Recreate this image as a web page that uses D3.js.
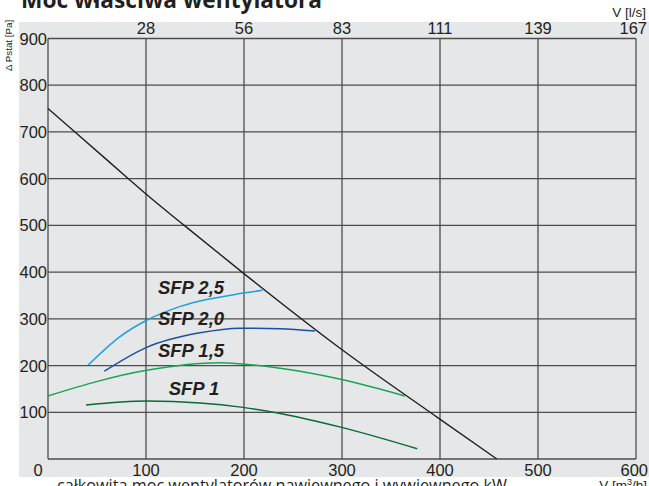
<!DOCTYPE html>
<html>
<head>
<meta charset="utf-8">
<script src="https://cdn.jsdelivr.net/npm/d3@7"></script>
<style>
  body { margin: 0; background: #fff; }
  svg { display: block; }
</style>
</head>
<body>
<div id="chart"></div>
<script>
// ticks
const x_ticks = [0, 100, 200, 300, 400, 500, 600]
const y_ticks = [0, 100, 200, 300, 400, 500, 600, 700, 800, 900]
const top_tick_labels = ["28", "56", "83", "111", "139", "167"]

// system curve (black)
const system_curve = [[0, 750], [27.5, 700], [82, 600], [100, 567], [139, 500], [198, 400], [298, 237], [398, 88], [458, 0]]

// SFP curves
const sfp_25 = [[41, 201], [73.5, 262], [100.7, 297], [130, 323], [155, 338], [196, 354], [219, 361]]
const sfp_20 = [[57.5, 188], [100.7, 239], [155, 270], [196, 280], [237, 279], [272.4, 274]]
const sfp_15 = [[0, 135], [100.7, 190], [175.5, 206], [237, 194], [299.7, 170], [364, 135]]
const sfp_10 = [[38.8, 115.4], [100.7, 124], [155, 120], [199, 110.5], [237, 97.6], [299.7, 67.7], [376.8, 22]]

const series = [
  { name: "SFP 2,5", data: sfp_25, color: "#1fa0e0", label_at: [191, 294] },
  { name: "SFP 2,0", data: sfp_20, color: "#1c4fa3", label_at: [191, 325] },
  { name: "SFP 1,5", data: sfp_15, color: "#18a552", label_at: [191, 357] },
  { name: "SFP 1", data: sfp_10, color: "#0b6b35", label_at: [194, 395] },
]

const width = 649
const height = 486

const svg = d3.select("#chart")
  .append("svg")
  .attr("width", width)
  .attr("height", height)

// gray background panel
svg.append("rect")
  .attr("x", 19).attr("y", 22)
  .attr("width", 630).attr("height", 455)
  .attr("fill", "#e6e7e8")

const x = d3.scaleLinear().domain([0, 600]).range([48, 636])
const y = d3.scaleLinear().domain([0, 900]).range([459, 38.5])

// grid
svg.selectAll(".vgrid")
  .data(x_ticks)
  .join("line")
  .attr("x1", d => x(d)).attr("x2", d => x(d))
  .attr("y1", y(0)).attr("y2", y(900))
  .attr("stroke", "#4d4d4d")
  .attr("stroke-width", 1.3)

svg.selectAll(".hgrid")
  .data(y_ticks)
  .join("line")
  .attr("x1", x(0)).attr("x2", x(600))
  .attr("y1", d => y(d)).attr("y2", d => y(d))
  .attr("stroke", "#4d4d4d")
  .attr("stroke-width", 1.3)

// tick labels
const tick_font = "'Liberation Sans', Arial, sans-serif"

svg.selectAll(".ylab")
  .data(y_ticks.filter(d => d > 0))
  .join("text")
  .attr("x", x(0) - 1)
  .attr("y", d => y(d) + 6)
  .attr("text-anchor", "end")
  .style("font-family", tick_font)
  .style("font-size", "16.5px")
  .attr("fill", "#231f20")
  .text(d => d)

svg.selectAll(".xlab")
  .data(x_ticks)
  .join("text")
  .attr("x", d => d === 0 ? x(d) - 10 : x(d))
  .attr("y", 476)
  .attr("text-anchor", d => d === 600 ? "end" : "middle")
  .attr("dx", d => d === 600 ? 12 : 0)
  .style("font-family", tick_font)
  .style("font-size", "16.5px")
  .attr("fill", "#231f20")
  .text(d => d)

svg.selectAll(".toplab")
  .data(top_tick_labels)
  .join("text")
  .attr("x", (d, i) => x(x_ticks[i + 1]))
  .attr("y", 34)
  .attr("text-anchor", (d, i) => i === top_tick_labels.length - 1 ? "end" : "middle")
  .attr("dx", (d, i) => i === top_tick_labels.length - 1 ? 11 : 0)
  .style("font-family", tick_font)
  .style("font-size", "16.5px")
  .attr("fill", "#231f20")
  .text(d => d)

// axis titles
svg.append("text")
  .attr("x", 646).attr("y", 17)
  .attr("text-anchor", "end")
  .style("font-family", tick_font)
  .style("font-size", "13.5px")
  .attr("fill", "#231f20")
  .text("V [l/s]")

svg.append("text")
  .attr("x", 647).attr("y", 490)
  .attr("text-anchor", "end")
  .style("font-family", tick_font)
  .style("font-size", "13.5px")
  .attr("fill", "#231f20")
  .html("V [m<tspan dy='-5' font-size='9px'>3</tspan><tspan dy='5'>/h]</tspan>")

svg.append("text")
  .attr("transform", "translate(12,71) rotate(-90)")
  .style("font-family", tick_font)
  .style("font-size", "9.8px")
  .attr("fill", "#231f20")
  .text("Δ Pstat [Pa]")

// title (partly cut off at the top)
svg.append("text")
  .attr("x", 21).attr("y", 8)
  .style("font-family", "'Open Sans', 'Noto Sans', sans-serif")
  .style("font-weight", "700")
  .style("font-size", "22.7px")
  .attr("fill", "#231f20")
  .text("Moc właściwa wentylatora")

// footnote (cut off at the bottom)
svg.append("text")
  .attr("x", 57).attr("y", 491)
  .style("font-family", "'Open Sans', 'Noto Sans', sans-serif")
  .style("font-size", "16.2px")
  .attr("fill", "#231f20")
  .text("całkowita moc wentylatorów nawiewnego i wywiewnego kW")

// curves
const line = d3.line()
  .x(d => x(d[0]))
  .y(d => y(d[1]))
  .curve(d3.curveMonotoneX)

svg.append("path")
  .datum(system_curve)
  .attr("d", line)
  .attr("fill", "none")
  .attr("stroke", "#231f20")
  .attr("stroke-width", 1.4)

svg.selectAll(".sfp")
  .data(series)
  .join("path")
  .attr("d", d => line(d.data))
  .attr("fill", "none")
  .attr("stroke", d => d.color)
  .attr("stroke-width", 1.5)

svg.selectAll(".sfp-label")
  .data(series)
  .join("text")
  .attr("x", d => d.label_at[0])
  .attr("y", d => d.label_at[1])
  .attr("text-anchor", "middle")
  .style("font-family", tick_font)
  .style("font-weight", "700")
  .style("font-style", "italic")
  .style("font-size", "18.5px")
  .attr("fill", "#231f20")
  .text(d => d.name)
</script>
</body>
</html>
